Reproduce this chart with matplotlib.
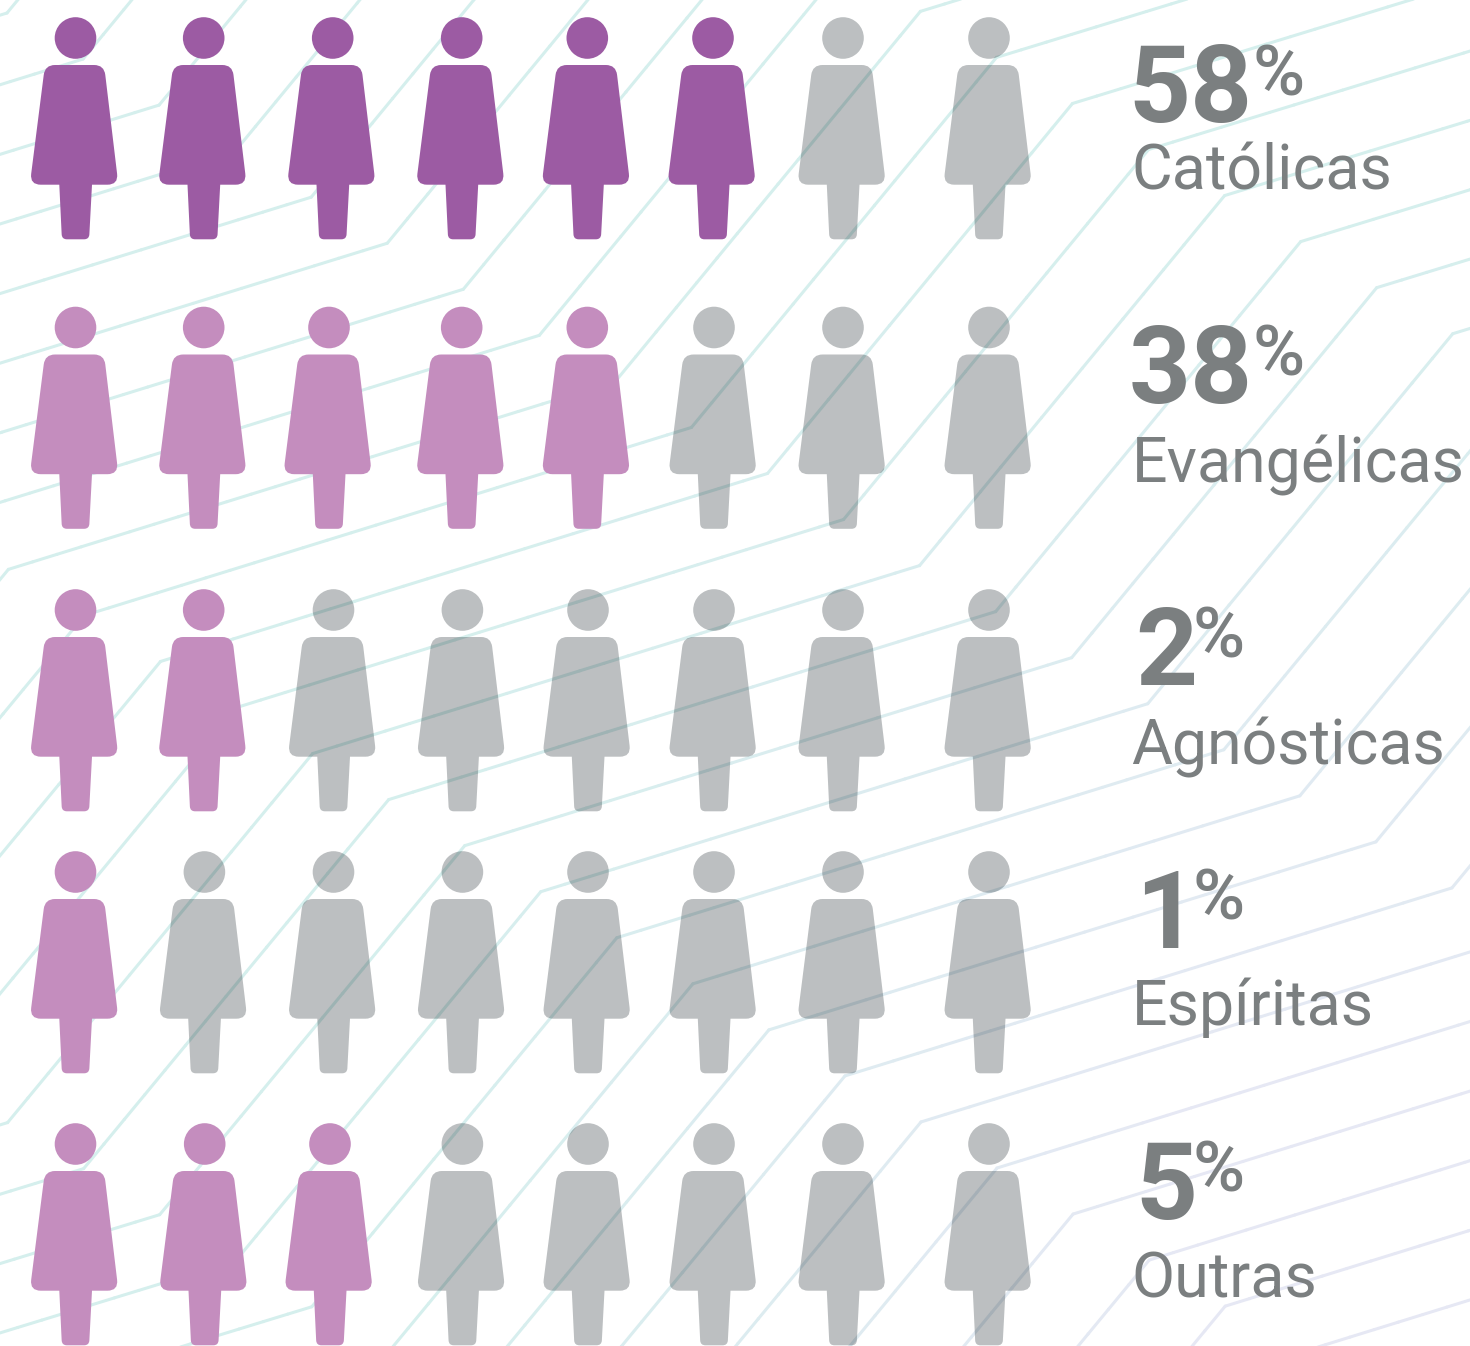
import numpy as np
import matplotlib
matplotlib.use("Agg")
import matplotlib.pyplot as plt
from matplotlib.path import Path
from matplotlib.patches import PathPatch
from matplotlib.collections import LineCollection

# chart values
categories = ["Católicas", "Evangélicas", "Agnósticas", "Espíritas", "Outras"]
percent = [58, 38, 2, 1, 5]
filled = [6, 5, 2, 1, 3]   # coloured figures in each row, out of 8

# layout, in pixels of the 1470x1346 picture
head_y = [38, 327.5, 610, 872, 1144]
head_x = [
	[75.5, 203.7, 332.7, 461.7, 587.3, 713, 843, 989],
	[75.5, 203.7, 329, 461.7, 587.3, 714, 843, 989],
	[75.5, 203.7, 333.5, 462.4, 588, 714, 843, 989],
	[75.5, 204.4, 333.5, 462.4, 588, 714, 843, 989],
	[75.5, 204.7, 330, 462.4, 588, 714, 843, 989],
]
number_x = [1128, 1129, 1135, 1135, 1135]
number_y = [122, 403, 685, 948, 1219]
sign_x = [1253, 1253, 1193, 1193, 1193]
sign_y = [95, 376, 658, 920, 1192]
label_x = 1131.5
label_y = [190, 482, 764, 1025, 1297]

dark_purple = "#9c5ba3"
light_purple = "#c48dbe"
text_grey = "#7b7f80"
teal = np.array([0xd5, 0xef, 0xed]) / 255.0
lavender = np.array([0xe6, 0xe8, 0xf4]) / 255.0

plt.rcParams["font.family"] = ["Roboto", "DejaVu Sans"]


def rounded_polygon(corners):
	# corners: (x, y, radius), closed path with quadratic corners
	verts = []
	codes = []
	n = len(corners)
	for i in range(n):
		p = np.array(corners[i][:2], dtype=float)
		r = corners[i][2]
		prev = np.array(corners[i - 1][:2], dtype=float)
		nxt = np.array(corners[(i + 1) % n][:2], dtype=float)
		a = p + (prev - p) / np.linalg.norm(prev - p) * r
		b = p + (nxt - p) / np.linalg.norm(nxt - p) * r
		verts.append(a)
		codes.append(Path.MOVETO if i == 0 else Path.LINETO)
		if r > 0:
			verts += [p, b]
			codes += [Path.CURVE3, Path.CURVE3]
	verts.append(verts[0])
	codes.append(Path.CLOSEPOLY)
	return Path(verts, codes)


def person(x, y):
	# figure relative to the centre of its head
	head = Path.circle((x, y), 20.8)
	body = rounded_polygon([
		(x - 30.5, y + 27, 10),
		(x + 28.6, y + 27, 10),
		(x + 42.9, y + 146.7, 11),
		(x + 16.5, y + 146.7, 0),
		(x + 13.6, y + 201.3, 5),
		(x - 13.6, y + 201.3, 5),
		(x - 16.2, y + 146.7, 0),
		(x - 45.7, y + 146.7, 11),
	])
	return Path.make_compound_path(head, body)


def line_colour(x, y):
	t = np.clip((x - 400) / 800.0, 0, 1) * np.clip((y - 200) / 900.0, 0, 1)
	return teal * (1 - t) + lavender * t


fig = plt.figure(figsize = (14.7, 13.46), dpi = 100)
ax = fig.add_axes([0, 0, 1, 1])
ax.set_xlim(0, 1470)
ax.set_ylim(1346, 0)
ax.axis("off")

# background lines, each one broken into short pieces for the colour fade
segments = []
colours = []
for k in range(-30, 45):
	ax_ = 7 + 76.05 * k
	ay = 13 + (ax_ - 7) * 0.6055
	bx, by = ax_ - 607, ay + 188
	cx, cy = bx - 305, by + 369
	nodes = [(cx - 800, cy + 245), (cx, cy), (bx, by), (ax_, ay), (ax_ + 305, ay - 370), (ax_ + 1105, ay - 615)]
	for (x0, y0), (x1, y1) in zip(nodes[:-1], nodes[1:]):
		n = int(max(abs(x1 - x0), abs(y1 - y0)) / 25) + 1
		xs = np.linspace(x0, x1, n + 1)
		ys = np.linspace(y0, y1, n + 1)
		for i in range(n):
			mx, my = (xs[i] + xs[i + 1]) / 2, (ys[i] + ys[i + 1]) / 2
			if -50 < mx < 1520 and -50 < my < 1400:
				segments.append([(xs[i], ys[i]), (xs[i + 1], ys[i + 1])])
				colours.append(line_colour(mx, my))

ax.add_collection(LineCollection(segments, colors = colours, linewidths = 2.2, capstyle = "round", zorder = 1))

# figures: the grey ones are see-through (dark colour + alpha acts like multiply)
for row, y in enumerate(head_y):
	colour = dark_purple if row == 0 else light_purple
	for col, x in enumerate(head_x[row]):
		if col < filled[row]:
			ax.add_patch(PathPatch(person(x, y), facecolor = colour, edgecolor = "none", zorder = 3))
		else:
			ax.add_patch(PathPatch(person(x, y), facecolor = (0.03, 0.08, 0.10), alpha = 0.27, edgecolor = "none", zorder = 2))

for i, name in enumerate(categories):
	ax.text(number_x[i], number_y[i], str(percent[i]), fontsize = 78, fontweight = "bold", color = text_grey, va = "baseline", zorder = 4)
	ax.text(sign_x[i], sign_y[i], "%", fontsize = 51, fontweight = "medium", color = text_grey, va = "baseline", zorder = 4)
	ax.text(label_x, label_y[i], name, fontsize = 45.1, color = text_grey, va = "baseline", zorder = 4)

fig.savefig("out.png", dpi = 100)
